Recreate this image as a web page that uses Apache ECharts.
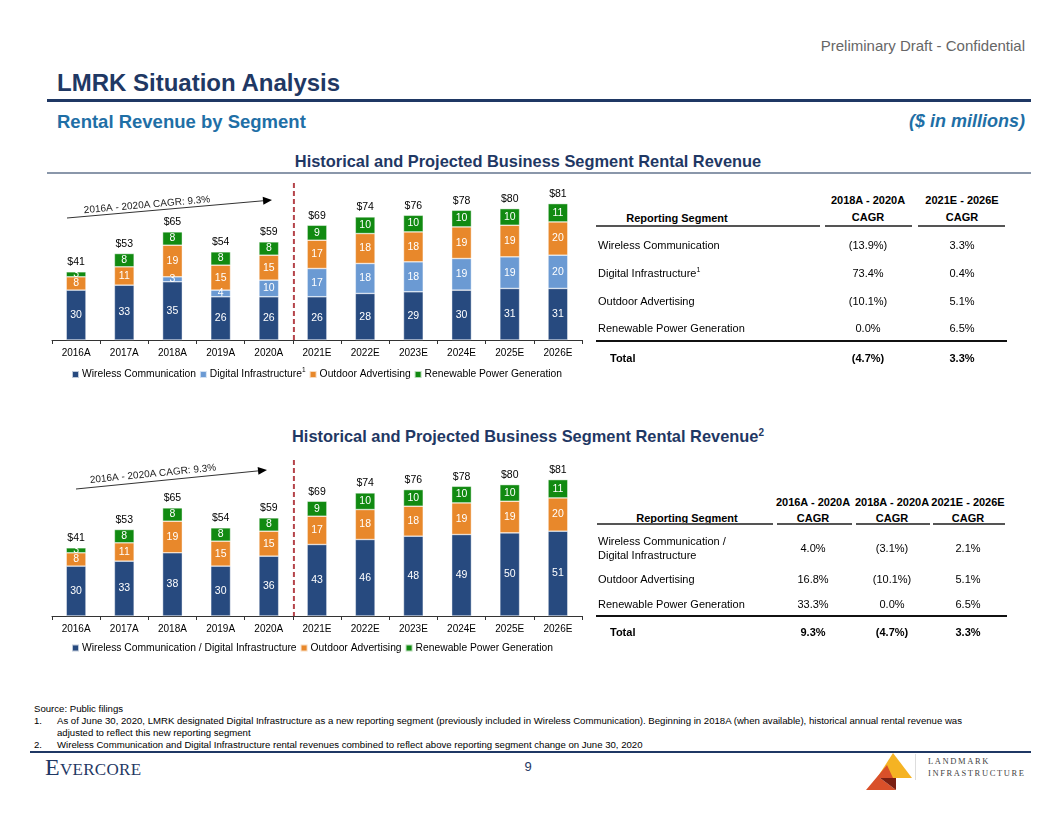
<!DOCTYPE html>
<html><head><meta charset="utf-8">
<script src="https://cdn.jsdelivr.net/npm/echarts@6/dist/echarts.min.js"></script>
<style>
html,body{margin:0;padding:0;background:#fff;}
body{width:1056px;height:816px;position:relative;overflow:hidden;font-family:"Liberation Sans",Arial,sans-serif;}
.t{position:absolute;white-space:nowrap;line-height:1;}
.hl{position:absolute;}
#c1{position:absolute;left:0;top:175px;width:600px;height:215px;}
#c2{position:absolute;left:0;top:451px;width:600px;height:215px;}
</style></head>
<body>
<div id="c1"></div>
<div id="c2"></div>
<script>
// ---------- DATA ----------
const categories = ['2016A','2017A','2018A','2019A','2020A','2021E','2022E','2023E','2024E','2025E','2026E'];
const wireless = [30,33,35,26,26,26,28,29,30,31,31];
const digital = [null,null,3,4,10,17,18,18,19,19,20];
const outdoor = [8,11,19,15,15,17,18,18,19,19,20];
const renewable = [3,8,8,8,8,9,10,10,10,10,11];
const wirelessDigital = [30,33,38,30,36,43,46,48,49,50,51];
const totals = [41,53,65,54,59,69,74,76,78,80,81];
const totalLabels = totals.map(v => '$' + v);

const table1Head1 = ['2018A - 2020A','2021E - 2026E'];
const table1Rows = [
  ['Wireless Communication','(13.9%)','3.3%'],
  ['Digital Infrastructure','73.4%','0.4%'],
  ['Outdoor Advertising','(10.1%)','5.1%'],
  ['Renewable Power Generation','0.0%','6.5%']
];
const table1Total = ['Total','(4.7%)','3.3%'];
const table2Head1 = ['2016A - 2020A','2018A - 2020A','2021E - 2026E'];
const table2Rows = [
  ['Wireless Communication /\nDigital Infrastructure','4.0%','(3.1%)','2.1%'],
  ['Outdoor Advertising','16.8%','(10.1%)','5.1%'],
  ['Renewable Power Generation','33.3%','0.0%','6.5%']
];
const table2Total = ['Total','9.3%','(4.7%)','3.3%'];
const cagrNote = '2016A - 2020A CAGR: 9.3%';

// ---------- COLORS ----------
const C_DARK = '#274a7f', C_LIGHT = '#6b9ad3', C_ORANGE = '#e8882b', C_GREEN = '#118a11';
const NAVY = '#1f3864', TEAL = '#1f6fa6';
const FONT = '"Liberation Sans", Arial, sans-serif';

// ---------- HTML TEXT HELPERS ----------
function txt(x, y, s, o) {
  o = o || {};
  const d = document.createElement('div');
  d.className = 't';
  d.innerHTML = s;
  d.style.fontSize = (o.size || 11) + 'px';
  d.style.color = o.color || '#000';
  if (o.bold) d.style.fontWeight = 'bold';
  if (o.italic) d.style.fontStyle = 'italic';
  if (o.family) d.style.fontFamily = o.family;
  if (o.ls) d.style.letterSpacing = o.ls;
  let tx = '0';
  if (o.align === 'center') tx = '-50%';
  if (o.align === 'right') tx = '-100%';
  d.style.left = x + 'px';
  d.style.top = y + 'px';
  d.style.transform = 'translate(' + tx + ',-50%)';
  document.body.appendChild(d);
  return d;
}
function hline(x1, x2, y, w, c) {
  const d = document.createElement('div');
  d.className = 'hl';
  d.style.left = x1 + 'px'; d.style.width = (x2 - x1) + 'px';
  d.style.top = (y - w / 2) + 'px'; d.style.height = w + 'px';
  d.style.background = c;
  document.body.appendChild(d);
}

// header
txt(1025, 45, 'Preliminary Draft - Confidential', {size: 15, color: '#666', align: 'right'});
txt(57, 83, 'LMRK Situation Analysis', {size: 24, bold: true, color: NAVY});
hline(47, 1031, 100, 3, NAVY);
txt(57, 122, 'Rental Revenue by Segment', {size: 18.5, bold: true, color: TEAL});
txt(1025, 121, '($ in millions)', {size: 18, bold: true, italic: true, color: TEAL, align: 'right'});
txt(528, 161, 'Historical and Projected Business Segment Rental Revenue', {size: 16.4, bold: true, color: NAVY, align: 'center'});
hline(47, 1031, 173, 1.5, '#8a97aa');
txt(528, 436, 'Historical and Projected Business Segment Rental Revenue<sup style="font-size:10px;vertical-align:6px;line-height:0">2</sup>', {size: 16.4, bold: true, color: NAVY, align: 'center'});

// table 1
(function () {
  const cx = [868, 962];
  table1Head1.forEach((h, i) => txt(cx[i], 200, h, {bold: true, align: 'center'}));
  txt(677, 218, 'Reporting Segment', {bold: true, align: 'center'});
  cx.forEach(x => txt(x, 217, 'CAGR', {bold: true, align: 'center'}));
  hline(596, 820, 226, 1.5, '#555'); hline(825, 912, 226, 1.5, '#555'); hline(918, 1005, 226, 1.5, '#555');
  const ys = [245, 273, 301, 328];
  table1Rows.forEach((r, i) => {
    const lab = i === 1 ? r[0] + '<sup style="font-size:7px;vertical-align:5px;line-height:0">1</sup>' : r[0];
    txt(598, ys[i], lab, {});
    txt(cx[0], ys[i], r[1], {align: 'center'});
    txt(cx[1], ys[i], r[2], {align: 'center'});
  });
  hline(596, 1007, 341, 2, '#111');
  txt(610, 358, table1Total[0], {bold: true});
  txt(cx[0], 358, table1Total[1], {bold: true, align: 'center'});
  txt(cx[1], 358, table1Total[2], {bold: true, align: 'center'});
})();

// table 2
(function () {
  const cx = [813, 892, 968];
  table2Head1.forEach((h, i) => txt(cx[i], 502, h, {bold: true, align: 'center'}));
  txt(687, 518, 'Reporting Segment', {bold: true, align: 'center'});
  cx.forEach(x => txt(x, 518, 'CAGR', {bold: true, align: 'center'}));
  hline(597, 773, 524, 1.5, '#555'); hline(777, 852, 524, 1.5, '#555');
  hline(856, 930, 524, 1.5, '#555'); hline(933, 1005, 524, 1.5, '#555');
  const ys = [548, 579, 604];
  table2Rows.forEach((r, i) => {
    const parts = r[0].split('\n');
    if (parts.length > 1) {
      txt(598, ys[i] - 7, parts[0], {});
      txt(598, ys[i] + 7, parts[1], {});
    } else txt(598, ys[i], r[0], {});
    for (let k = 1; k < 4; k++) txt(cx[k - 1], ys[i], r[k], {align: 'center'});
  });
  hline(596, 1007, 616, 2, '#111');
  txt(610, 632, table2Total[0], {bold: true});
  for (let k = 1; k < 4; k++) txt(cx[k - 1], 632, table2Total[k], {bold: true, align: 'center'});
})();

// footnotes
const FN = 9.6;
txt(34, 709, 'Source: Public filings', {size: FN});
txt(34, 721, '1.', {size: FN});
txt(57, 721, 'As of June 30, 2020, LMRK designated Digital Infrastructure as a new reporting segment (previously included in Wireless Communication). Beginning in 2018A (when available), historical annual rental revenue was', {size: FN});
txt(57, 733, 'adjusted to reflect this new reporting segment', {size: FN});
txt(34, 745, '2.', {size: FN});
txt(57, 745, 'Wireless Communication and Digital Infrastructure rental revenues combined to reflect above reporting segment change on June 30, 2020', {size: FN});
hline(30, 1031, 752, 2.5, NAVY);
txt(45, 767, 'Evercore', {size: 24, color: NAVY, family: '"Liberation Serif","DejaVu Serif",serif', ls: '0.3px'}).style.fontVariant = 'small-caps';
txt(528, 766, '9', {size: 13, color: NAVY, align: 'center'});
txt(928, 761, 'LANDMARK', {size: 8.5, color: '#444', family: '"Liberation Serif",serif', ls: '1.6px'});
txt(928, 773, 'INFRASTRUCTURE', {size: 8.5, color: '#444', family: '"Liberation Serif",serif', ls: '1.6px'});
(function () {
  const s = document.createElementNS('http://www.w3.org/2000/svg', 'svg');
  s.setAttribute('width', '70'); s.setAttribute('height', '50');
  s.style.position = 'absolute'; s.style.left = '860px'; s.style.top = '748px';
  s.innerHTML = '<polygon points="33,5 52,30 17,30" fill="#f5b323"/>' +
    '<polygon points="6,42 27,17 33,30 20,30 36,42" fill="#d9502a"/>' +
    '<polygon points="20,30 36,30 36,42" fill="#7a1f12"/>' +
    '<line x1="55.5" y1="6" x2="55.5" y2="32" stroke="#ddd" stroke-width="1"/>';
  document.body.appendChild(s);
})();

// ---------- CHARTS ----------
function makeChart(id, seriesList, legendLeft, legendTop, arrow, txtPos, dashTop) {
  const chart = echarts.init(document.getElementById(id), null, {renderer: 'canvas'});
  const series = seriesList.map(s => ({
    name: s.name, type: 'bar', stack: 'total', data: s.data, barWidth: '41%',
    itemStyle: {color: s.color, borderColor: 'rgba(255,255,255,0.7)', borderWidth: 0.6},
    label: {show: true, position: 'inside', color: '#fff', fontSize: 10.5, fontFamily: FONT,
      formatter: p => (p.value == null ? '' : p.value)},
    emphasis: {disabled: true}
  }));
  series.push({
    name: '_total', type: 'bar', stack: 'total', data: categories.map(() => 0), barWidth: '41%',
    itemStyle: {color: 'transparent'},
    label: {show: true, position: 'top', color: '#000', fontSize: 10.5, fontFamily: FONT, distance: 4,
      formatter: p => totalLabels[p.dataIndex]},
    emphasis: {disabled: true}
  });
  chart.setOption({
    animation: false,
    grid: {left: 52, right: 18, top: 7, bottom: 50},
    legend: {
      data: seriesList.map(s => s.name), left: legendLeft, top: legendTop, width: 560,
      itemWidth: 7, itemHeight: 7, itemGap: 3, icon: 'rect',
      textStyle: {fontSize: 10.3, color: '#000', fontFamily: FONT, padding: [0, 0, 0, -2],
        rich: {n: {fontSize: 10.3, fontFamily: FONT, color: '#000'}, s: {fontSize: 6.5, fontFamily: FONT, color: '#000', verticalAlign: 'top', padding: [0, 0, 8, 0]}}},
      formatter: n => n === 'Digital Infrastructure' ? '{n|Digital Infrastructure}{s|1}' : n
    },
    xAxis: {
      type: 'category', data: categories,
      axisLine: {lineStyle: {color: '#333', width: 1}},
      axisTick: {show: true, length: 4, lineStyle: {color: '#333'}},
      axisLabel: {color: '#000', fontSize: 10, fontFamily: FONT, margin: 8}
    },
    yAxis: {type: 'value', min: 0, max: 95, show: false, splitLine: {show: false}},
    series: series
  });
  const xa = chart.convertToPixel({xAxisIndex: 0}, categories[4]);
  const xb = chart.convertToPixel({xAxisIndex: 0}, categories[5]);
  const xm = (xa + xb) / 2 + 1;
  const y0 = chart.convertToPixel({yAxisIndex: 0}, 0);
  const [ax1, ay1, ax2, ay2] = arrow;
  const ang = Math.atan2(ay2 - ay1, ax2 - ax1);
  const hl = 9, hw = 4;
  const bx = ax2 - hl * Math.cos(ang), by = ay2 - hl * Math.sin(ang);
  chart.setOption({
    graphic: [
      {type: 'line', shape: {x1: xm, y1: dashTop, x2: xm, y2: y0}, style: {stroke: '#b5444a', lineWidth: 2, lineDash: [5, 3]}, silent: true},
      {type: 'line', shape: {x1: ax1, y1: ay1, x2: bx, y2: by}, style: {stroke: '#333', lineWidth: 1}, silent: true},
      {type: 'polygon', shape: {points: [[ax2, ay2], [bx + hw * Math.sin(ang), by - hw * Math.cos(ang)], [bx - hw * Math.sin(ang), by + hw * Math.cos(ang)]]}, style: {fill: '#000'}, silent: true},
      {type: 'text', x: txtPos[0], y: txtPos[1], rotation: -ang, silent: true,
        style: {text: cagrNote, fontSize: 10, fontFamily: FONT, fill: '#222', align: 'center', verticalAlign: 'middle'}}
    ]
  });
}

makeChart('c1', [
  {name: 'Wireless Communication', data: wireless, color: C_DARK},
  {name: 'Digital Infrastructure', data: digital, color: C_LIGHT},
  {name: 'Outdoor Advertising', data: outdoor, color: C_ORANGE},
  {name: 'Renewable Power Generation', data: renewable, color: C_GREEN}
], 66, 187, [67, 43, 272, 25], [147, 30], 8);

makeChart('c2', [
  {name: 'Wireless Communication / Digital Infrastructure', data: wirelessDigital, color: C_DARK},
  {name: 'Outdoor Advertising', data: outdoor, color: C_ORANGE},
  {name: 'Renewable Power Generation', data: renewable, color: C_GREEN}
], 66, 187, [76, 38, 267, 19], [153, 23], 9);
</script>
</body></html>
